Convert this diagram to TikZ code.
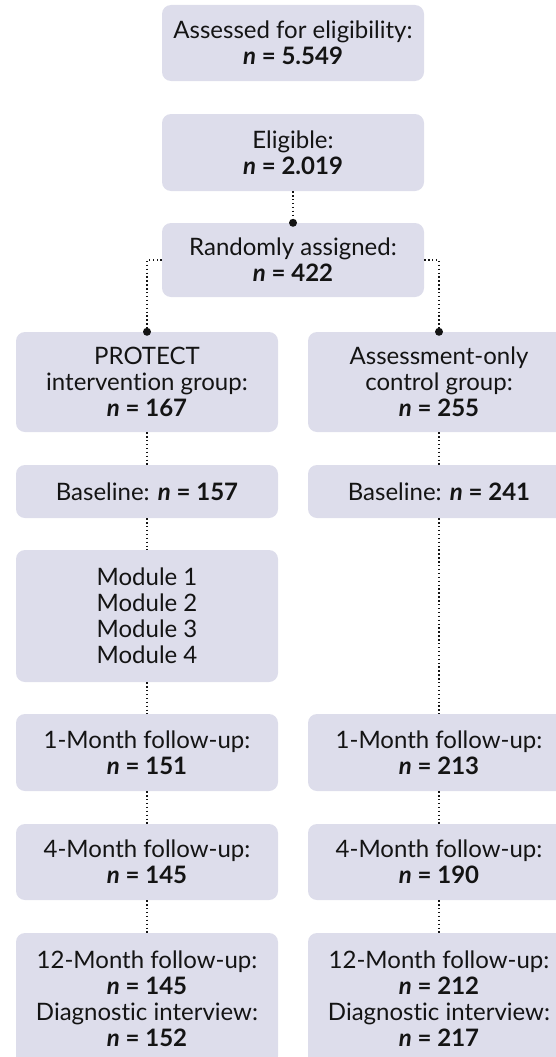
\documentclass[tikz,border=0pt]{standalone}
\usepackage{fontspec}
\setmainfont{Lato}[Ligatures={NoCommon}]
\definecolor{boxfill}{RGB}{221,221,235}
\definecolor{ink}{RGB}{20,20,20}
\newcommand{\nval}[1]{\textbf{\textit{n} = #1}}
\begin{document}
\begin{tikzpicture}[x=1pt,y=-1pt,
  box/.style={fill=boxfill, rounded corners=9pt, minimum width=262pt,
    align=center, inner sep=0pt, text=ink,
    font=\fontsize{24}{26}\selectfont},
  link/.style={line width=1.5pt, dash pattern=on 1.4pt off 2.5pt, ink},
  joint/.style={circle, fill=ink, inner sep=0pt, minimum size=8pt}]
\clip (0,0) rectangle (556,1057);

% enrolment
\node[box, minimum height=76pt] (A) at (293,43) {Assessed for eligibility:\\\nval{5.549}};
\node[box, minimum height=77pt] (E) at (293,152.5) {Eligible:\\\nval{2.019}};
\node[box, minimum height=74pt] (R) at (293,260) {Randomly assigned:\\\nval{422}};

% intervention arm
\node[box, minimum height=100pt] (P) at (147,382) {PROTECT\\intervention group:\\\nval{167}};
\node[box, minimum height=53pt] (BL) at (147,491.5) {Baseline: \nval{157}};
\node[box, minimum height=132pt] (M) at (147,616) {Module 1\\Module 2\\Module 3\\Module 4};
\node[box, minimum height=77pt] (F1L) at (147,752.5) {1-Month follow-up:\\\nval{151}};
\node[box, minimum height=76pt] (F4L) at (147,862) {4-Month follow-up:\\\nval{145}};
\node[box, minimum height=132pt] (F12L) at (147,999) {12-Month follow-up:\\\nval{145}\\Diagnostic interview:\\\nval{152}};

% control arm
\node[box, minimum height=100pt] (C) at (439,382) {Assessment-only\\control group:\\\nval{255}};
\node[box, minimum height=53pt] (BR) at (439,491.5) {Baseline: \nval{241}};
\node[box, minimum height=77pt] (F1R) at (439,752.5) {1-Month follow-up:\\\nval{213}};
\node[box, minimum height=76pt] (F4R) at (439,862) {4-Month follow-up:\\\nval{190}};
\node[box, minimum height=132pt] (F12R) at (439,999) {12-Month follow-up:\\\nval{212}\\Diagnostic interview:\\\nval{217}};

% connectors
\draw[link] (E.south) -- (R.north);
\node[joint] at (R.north) {};
\draw[link] (R.west) -| (P.north);
\node[joint] at (P.north) {};
\draw[link] (R.east) -| (C.north);
\node[joint] at (C.north) {};

\draw[link] (P.south) -- (BL.north);
\draw[link] (BL.south) -- (M.north);
\draw[link] (M.south) -- (F1L.north);
\draw[link] (F1L.south) -- (F4L.north);
\draw[link] (F4L.south) -- (F12L.north);

\draw[link] (C.south) -- (BR.north);
\draw[link] (BR.south) -- (F1R.north);
\draw[link] (F1R.south) -- (F4R.north);
\draw[link] (F4R.south) -- (F12R.north);
\end{tikzpicture}
\end{document}
